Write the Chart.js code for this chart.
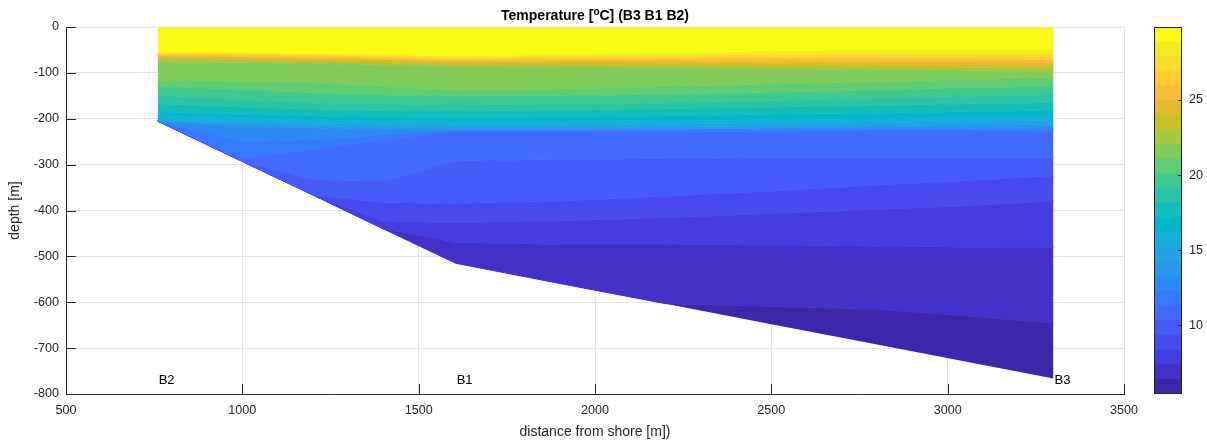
<!DOCTYPE html>
<html>
<head>
<meta charset="utf-8">
<title>Temperature section</title>
<script src="https://cdn.jsdelivr.net/npm/chart.js@4.4.1/dist/chart.umd.min.js"></script>
<style>
  html, body { margin: 0; padding: 0; background: #fff; }
  #wrap { position: relative; width: 1207px; height: 446px; }
  #main { position: absolute; left: 0; top: 0; }
  #cbar { position: absolute; left: 1130px; top: 0; }
</style>
</head>
<body>
<div id="wrap">
  <canvas id="main" width="1207" height="446"></canvas>
  <canvas id="cbar" width="77" height="446"></canvas>
</div>
<script>
// stations along the section
const stationNames = ['B2', 'B1', 'B3'];
const stationX = [760, 1605, 3300];
const stationLabelDepth = -770;

// distance from shore where the isotherm depths were read
const sectionX = [760, 1000, 1200, 1400, 1605, 1900, 2200, 2500, 2800, 3050, 3300];
const surface  = [0, 0, 0, 0, 0, 0, 0, 0, 0, 0, 0];
const seafloor = [-205, -293, -366, -440, -515, -559, -603, -648, -692, -729, -766];

// contour levels (deg C), 25 bands
const levels = [5.43, 6.41, 7.38, 8.36, 9.34, 10.31, 11.29, 12.27, 13.24, 14.22, 15.2, 16.17,
  17.15, 18.13, 19.1, 20.08, 21.06, 22.03, 23.01, 23.99, 24.96, 25.94, 26.92, 27.89, 28.87, 29.85];

// isoN = depth of levels[N] along the section (clipped to the seafloor)
const iso24 = [-55, -56, -58, -60, -63, -60, -57, -53, -50, -50, -50];
const iso23 = [-57, -58, -60, -63, -66, -64, -62, -60, -59, -60, -60];
const iso22 = [-59, -60, -63, -65, -69, -67, -66, -65, -65, -66, -66];
const iso21 = [-61, -63, -65, -68, -72, -71, -70, -70, -70, -71, -72];
const iso20 = [-63, -65, -68, -71, -75, -74, -74, -75, -76, -77, -78];
const iso19 = [-66, -68, -71, -74, -79, -78, -79, -80, -82, -83, -84];
const iso18 = [-70, -72, -75, -78, -83, -83, -84, -85, -87, -89, -90];
const iso17 = [-77, -78, -80, -83, -87, -88, -89, -91, -93, -95, -97];
const iso16 = [-116, -118, -122, -130, -137, -135, -130, -125, -120, -115, -111];
const iso15 = [-130, -137, -144, -148, -151, -150, -147, -143, -138, -133, -129];
const iso14 = [-150, -158, -165, -168, -169, -168, -165, -161, -156, -151, -147];
const iso13 = [-168, -175, -180, -183, -183, -182, -179, -175, -171, -168, -165];
const iso12 = [-186, -190, -194, -196, -197, -196, -194, -191, -188, -185, -182];
const iso11 = [-195, -198, -202, -204, -205, -205, -204, -202, -200, -197, -195];
const iso10 = [-205, -206, -209, -212, -213, -213, -212, -210, -208, -206, -204];
const iso9  = [-205, -212, -215, -218, -219, -219, -218, -217, -215, -213, -212];
const iso8  = [-205, -218, -220, -224, -222, -222, -221, -220, -219, -219, -218];
const iso7  = [-205, -250, -245, -235, -225, -225, -224, -223, -222, -222, -223];
const iso6  = [-205, -285, -267, -245, -228, -228, -227, -227, -226, -226, -227];
const iso5  = [-205, -293, -333, -337, -292, -289, -287, -285, -285, -285, -285];
const iso4  = [-205, -293, -366, -383, -385, -380, -369, -358, -345, -335, -325];
const iso3  = [-205, -293, -366, -424, -426, -423, -416, -407, -398, -390, -380];
const iso2  = [-205, -293, -366, -440, -470, -474, -474, -476, -478, -480, -481];
const iso1  = [-205, -293, -366, -440, -515, -559, -603, -610, -616, -630, -645];

// axis ticks
const xTicks = [500, 1000, 1500, 2000, 2500, 3000, 3500];
const yTicks = [0, -100, -200, -300, -400, -500, -600, -700, -800];
const cbTicks = [10, 15, 20, 25];

// parula colormap (64)
const PARULA = [
[0.2422,0.1504,0.6603],[0.2504,0.1650,0.7076],[0.2578,0.1818,0.7511],[0.2647,0.1978,0.7952],
[0.2706,0.2147,0.8364],[0.2751,0.2342,0.8710],[0.2783,0.2559,0.8991],[0.2803,0.2782,0.9221],
[0.2813,0.3006,0.9414],[0.2810,0.3228,0.9579],[0.2795,0.3447,0.9717],[0.2760,0.3667,0.9829],
[0.2699,0.3892,0.9906],[0.2602,0.4123,0.9952],[0.2440,0.4358,0.9988],[0.2206,0.4603,0.9973],
[0.1963,0.4847,0.9892],[0.1834,0.5074,0.9798],[0.1786,0.5289,0.9682],[0.1764,0.5499,0.9520],
[0.1687,0.5703,0.9359],[0.1540,0.5902,0.9218],[0.1460,0.6091,0.9079],[0.1380,0.6276,0.8973],
[0.1248,0.6459,0.8883],[0.1113,0.6635,0.8763],[0.0952,0.6798,0.8598],[0.0689,0.6948,0.8394],
[0.0297,0.7082,0.8163],[0.0036,0.7203,0.7917],[0.0067,0.7312,0.7660],[0.0433,0.7411,0.7394],
[0.0964,0.7500,0.7120],[0.1408,0.7584,0.6842],[0.1717,0.7670,0.6554],[0.1938,0.7758,0.6251],
[0.2161,0.7843,0.5923],[0.2470,0.7918,0.5567],[0.2906,0.7973,0.5188],[0.3406,0.8008,0.4789],
[0.3909,0.8029,0.4354],[0.4456,0.8024,0.3909],[0.5044,0.7993,0.3480],[0.5616,0.7942,0.3045],
[0.6174,0.7876,0.2612],[0.6720,0.7793,0.2227],[0.7242,0.7698,0.1910],[0.7738,0.7598,0.1646],
[0.8203,0.7498,0.1535],[0.8634,0.7406,0.1596],[0.9035,0.7330,0.1774],[0.9393,0.7288,0.2100],
[0.9728,0.7298,0.2394],[0.9956,0.7434,0.2371],[0.9970,0.7659,0.2199],[0.9952,0.7893,0.2028],
[0.9892,0.8136,0.1885],[0.9786,0.8386,0.1766],[0.9676,0.8639,0.1643],[0.9610,0.8890,0.1537],
[0.9597,0.9135,0.1423],[0.9628,0.9373,0.1265],[0.9691,0.9606,0.1064],[0.9769,0.9839,0.0805]];

function parula(t) {
  const n = PARULA.length - 1;
  const f = Math.min(Math.max(t, 0), 1) * n;
  const i = Math.min(Math.floor(f), n - 1), r = f - i;
  const a = PARULA[i], b = PARULA[i + 1];
  const c = a.map((v, j) => Math.round(255 * (v + (b[j] - v) * r)));
  return 'rgb(' + c[0] + ',' + c[1] + ',' + c[2] + ')';
}

const nBands = levels.length - 1;
const bandColor = k => parula(k / (nBands - 1));

const FONT = '"Liberation Sans", Arial, Helvetica, sans-serif';
const AXIS = '#262626';

// top to bottom: each line fills down to the next one
const lines = [surface, iso24, iso23, iso22, iso21, iso20, iso19, iso18, iso17, iso16, iso15,
  iso14, iso13, iso12, iso11, iso10, iso9, iso8, iso7, iso6, iso5, iso4, iso3, iso2, iso1, seafloor];

const datasets = lines.map((arr, i) => {
  const last = i === lines.length - 1;
  const col = last ? 'rgba(0,0,0,0)' : bandColor(nBands - 1 - i);
  return {
    data: sectionX.map((x, j) => ({ x: x, y: arr[j] })),
    borderColor: col,
    backgroundColor: col,
    borderWidth: last ? 0 : 1,
    pointRadius: 0,
    tension: 0,
    fill: last ? false : '+1'
  };
});

const decor = {
  id: 'decor',
  afterDraw(chart) {
    const { ctx, chartArea: a, scales: { x, y } } = chart;
    ctx.save();
    // inward tick marks
    ctx.strokeStyle = AXIS;
    ctx.lineWidth = 1;
    ctx.beginPath();
    xTicks.forEach(v => {
      const px = Math.round(x.getPixelForValue(v)) + 0.5;
      ctx.moveTo(px, a.bottom); ctx.lineTo(px, a.bottom - 10);
    });
    yTicks.forEach(v => {
      const py = Math.round(y.getPixelForValue(v)) + 0.5;
      ctx.moveTo(a.left, py); ctx.lineTo(a.left + 10, py);
    });
    ctx.stroke();

    // station labels
    ctx.fillStyle = '#000';
    ctx.font = '13px ' + FONT;
    ctx.textAlign = 'left';
    ctx.textBaseline = 'middle';
    stationNames.forEach((s, i) => {
      ctx.fillText(s, x.getPixelForValue(stationX[i]) + 1, y.getPixelForValue(stationLabelDepth));
    });

    // title with superscript o
    const p1 = 'Temperature [', sup = 'o', p3 = 'C] (B3 B1 B2)';
    const big = 'bold 14px ' + FONT, small = 'bold 10px ' + FONT;
    ctx.font = big;
    const w1 = ctx.measureText(p1).width, w3 = ctx.measureText(p3).width;
    ctx.font = small;
    const ws = ctx.measureText(sup).width;
    let tx = (a.left + a.right) / 2 - (w1 + ws + w3) / 2;
    const base = 20;
    ctx.textBaseline = 'alphabetic';
    ctx.font = big; ctx.fillText(p1, tx, base); tx += w1;
    ctx.font = small; ctx.fillText(sup, tx, base - 5); tx += ws;
    ctx.font = big; ctx.fillText(p3, tx, base);
    ctx.restore();
  }
};

new Chart(document.getElementById('main'), {
  type: 'line',
  data: { datasets: datasets },
  plugins: [decor],
  options: {
    responsive: false,
    animation: false,
    events: [],
    layout: { padding: { top: 27, right: 83, bottom: 0, left: 0 } },
    plugins: { legend: { display: false }, tooltip: { enabled: false }, title: { display: false } },
    scales: {
      x: {
        type: 'linear', min: 500, max: 3500,
        afterBuildTicks: s => { s.ticks = xTicks.map(v => ({ value: v })); },
        afterFit: s => { s.height = 52; },
        grid: { color: '#e3e3e3', drawTicks: false },
        border: { color: AXIS, width: 1 },
        ticks: { padding: 9, color: AXIS, font: { family: FONT, size: 12.6 },
          maxRotation: 0, autoSkip: false, callback: v => String(v) },
        title: { display: true, text: 'distance from shore [m])', color: AXIS,
          font: { family: FONT, size: 14 }, padding: { top: 0, bottom: 5 } }
      },
      y: {
        type: 'linear', min: -800, max: 0,
        afterBuildTicks: s => { s.ticks = yTicks.map(v => ({ value: v })); },
        afterFit: s => { s.width = 66; },
        grid: { color: '#e3e3e3', drawTicks: false },
        border: { color: AXIS, width: 1 },
        ticks: { padding: 7, color: AXIS, font: { family: FONT, size: 12.6 },
          autoSkip: false, callback: v => String(v) },
        title: { display: true, text: 'depth [m]', color: AXIS,
          font: { family: FONT, size: 14 }, padding: { top: 7, bottom: 0 } }
      }
    }
  }
});

// colour bar
const cbFrame = {
  id: 'cbFrame',
  afterDraw(chart) {
    const { ctx, chartArea: a, scales: { y } } = chart;
    ctx.save();
    ctx.strokeStyle = AXIS;
    ctx.lineWidth = 1;
    ctx.strokeRect(Math.round(a.left) + 0.5, Math.round(a.top) + 0.5,
      Math.round(a.right - a.left) - 1, Math.round(a.bottom - a.top) - 1);
    ctx.beginPath();
    cbTicks.forEach(v => {
      const py = Math.round(y.getPixelForValue(v)) + 0.5;
      ctx.moveTo(a.right, py); ctx.lineTo(a.right - 4, py);
    });
    ctx.stroke();
    ctx.restore();
  }
};

new Chart(document.getElementById('cbar'), {
  type: 'bar',
  data: {
    labels: [''],
    datasets: levels.slice(0, -1).map((lo, k) => ({
      data: [[lo, levels[k + 1]]],
      backgroundColor: bandColor(k),
      borderWidth: 0,
      barPercentage: 1,
      categoryPercentage: 1
    }))
  },
  plugins: [cbFrame],
  options: {
    responsive: false,
    animation: false,
    events: [],
    layout: { padding: { top: 27, right: 0, bottom: 52, left: 24 } },
    plugins: { legend: { display: false }, tooltip: { enabled: false } },
    scales: {
      x: { display: false, stacked: true },
      y: {
        position: 'right', min: levels[0], max: levels[levels.length - 1], stacked: false,
        afterBuildTicks: s => { s.ticks = cbTicks.map(v => ({ value: v })); },
        afterFit: s => { s.width = 25; },
        grid: { display: false, drawTicks: false },
        border: { display: false },
        ticks: { padding: 7, color: AXIS, font: { family: FONT, size: 12.6 } }
      }
    }
  }
});
</script>
</body>
</html>
